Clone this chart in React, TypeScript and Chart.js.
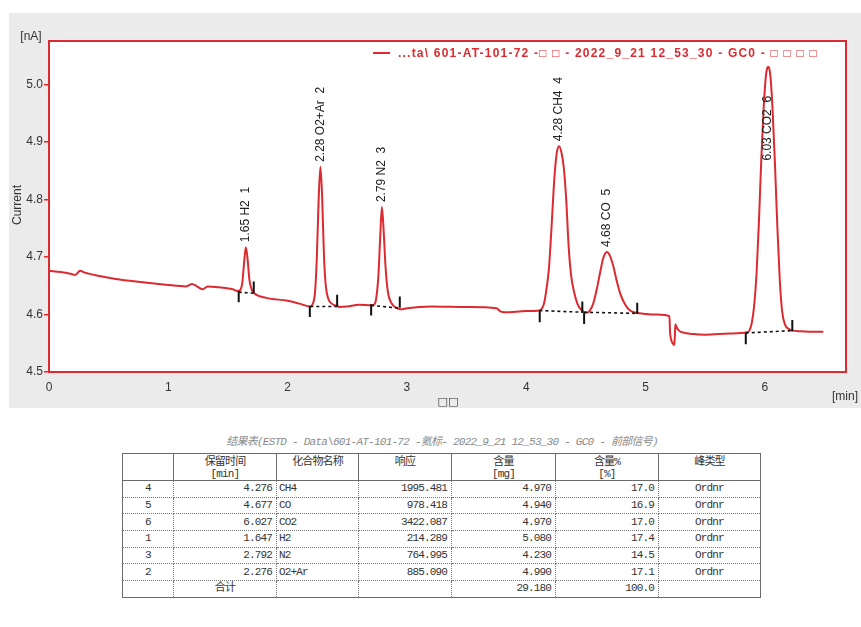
import React, { useEffect, useRef } from "react";
import { Chart, registerables } from "chart.js";

Chart.register(...registerables);

// ---------- chromatogram data ----------
const SIGNAL_T = [
  0.0, 0.1, 0.18, 0.22, 0.26, 0.3, 0.4, 0.56, 0.75, 0.98, 1.15, 1.2, 1.24, 1.29, 1.33, 1.4, 1.54, 1.58,
  1.6, 1.62, 1.635, 1.65, 1.665, 1.68, 1.7, 1.72, 1.82, 2.0, 2.1, 2.19,
  2.21, 2.23, 2.245, 2.26, 2.275, 2.29, 2.305, 2.32, 2.34, 2.37, 2.41, 2.44, 2.5, 2.6, 2.7,
  2.72, 2.74, 2.76, 2.775, 2.79, 2.805, 2.82, 2.84, 2.87, 2.91, 2.95, 3.0, 3.2, 3.5, 3.75, 3.78, 3.82, 4.0, 4.11,
  4.13, 4.15, 4.17, 4.19, 4.21, 4.235, 4.255, 4.275, 4.295, 4.315, 4.335, 4.355, 4.375, 4.4, 4.43, 4.47, 4.505,
  4.53, 4.56, 4.59, 4.62, 4.645, 4.675, 4.7, 4.73, 4.76, 4.79, 4.83, 4.87, 4.92, 5.0, 5.1, 5.2,
  5.205, 5.215, 5.23, 5.24, 5.245, 5.25, 5.26, 5.28, 5.31, 5.4, 5.5, 5.7, 5.85,
  5.87, 5.89, 5.91, 5.93, 5.95, 5.97, 5.99, 6.01, 6.027, 6.045, 6.065, 6.085, 6.105, 6.125, 6.145, 6.17, 6.2, 6.23, 6.3, 6.4, 6.49,
];
const SIGNAL_Y = [
  4.676, 4.674, 4.671, 4.669, 4.676, 4.673, 4.668, 4.662, 4.657, 4.652, 4.649, 4.653, 4.649, 4.644, 4.649, 4.648, 4.644, 4.641,
  4.642, 4.655, 4.69, 4.717, 4.695, 4.66, 4.643, 4.637, 4.629, 4.624, 4.619, 4.614,
  4.618, 4.64, 4.7, 4.8, 4.857, 4.8, 4.7, 4.65, 4.628, 4.619, 4.615, 4.613, 4.614, 4.617, 4.616,
  4.617, 4.625, 4.665, 4.73, 4.787, 4.745, 4.685, 4.64, 4.62, 4.612, 4.609, 4.611, 4.614, 4.613, 4.611, 4.606, 4.604, 4.606, 4.607,
  4.61, 4.62, 4.645, 4.68, 4.745, 4.835, 4.88, 4.893, 4.882, 4.855, 4.8, 4.72, 4.67, 4.64, 4.618, 4.606, 4.603,
  4.606, 4.618, 4.643, 4.674, 4.698, 4.709, 4.703, 4.684, 4.657, 4.635, 4.617, 4.607, 4.603, 4.601, 4.6, 4.597,
  4.57, 4.556, 4.549, 4.547, 4.56, 4.583, 4.578, 4.572, 4.569, 4.566, 4.565, 4.567, 4.569,
  4.572, 4.585, 4.615, 4.67, 4.76, 4.87, 4.96, 5.018, 5.031, 5.018, 4.955, 4.86, 4.75, 4.66, 4.605, 4.582, 4.575, 4.572, 4.571, 4.57, 4.57,
];

// peak apexes and labels
const PEAK_APEX_T = [1.65, 2.275, 2.79, 4.275, 4.675, 6.027];
const PEAK_APEX_Y = [4.717, 4.857, 4.787, 4.893, 4.709, 5.031];
const PEAK_LABELS = ["1.65 H2  1", "2.28 O2+Ar  2", "2.79 N2  3", "4.28 CH4  4", "4.68 CO  5", "6.03 CO2  6"];

// integration baselines (dotted)
const BASE_T0 = [1.59, 2.19, 2.7, 4.11, 4.485, 5.84];
const BASE_Y0 = [4.639, 4.614, 4.616, 4.607, 4.604, 4.568];
const BASE_T1 = [1.715, 2.415, 2.94, 4.475, 4.93, 6.23];
const BASE_Y1 = [4.637, 4.614, 4.611, 4.604, 4.602, 4.572];

// peak start / end marks
const START_T = [1.59, 2.186, 2.7, 4.113, 4.485, 5.84];
const START_Y = [4.641, 4.615, 4.618, 4.606, 4.603, 4.568];
const END_T = [1.716, 2.415, 2.94, 4.47, 4.93, 6.23];
const END_Y = [4.638, 4.615, 4.612, 4.603, 4.601, 4.571];

// axes
const X_TICKS = [0, 1, 2, 3, 4, 5, 6];
const Y_TICKS = [4.5, 4.6, 4.7, 4.8, 4.9, 5.0];
const X_MIN = 0;
const X_MAX = 6.68;
const Y_MIN = 4.5;
const Y_MAX = 5.076;

const LEGEND_TEXT = "...ta\\ 601-AT-101-72 -\u25A1 \u25A1 - 2022_9_21 12_53_30 - GC0 - \u25A1 \u25A1 \u25A1 \u25A1";
const X_TITLE = "\u25A1\u25A1";
const Y_TITLE = "Current";
const Y_UNIT = "[nA]";
const X_UNIT = "[min]";

// ---------- result table data ----------
const TABLE_TITLE = "结果表(ESTD - Data\\601-AT-101-72 -氦标- 2022_9_21 12_53_30 - GC0 - 前部信号)";
const ROW_IDS = ["4", "5", "6", "1", "3", "2"];
const ROW_RT = [4.276, 4.677, 6.027, 1.647, 2.792, 2.276];
const ROW_NAMES = ["CH4", "CO", "CO2", "H2", "N2", "O2+Ar"];
const ROW_RESP = [1995.481, 978.418, 3422.087, 214.289, 764.995, 885.09];
const ROW_AMT = [4.97, 4.94, 4.97, 5.08, 4.23, 4.99];
const ROW_PCT = [17.0, 16.9, 17.0, 17.4, 14.5, 17.1];
const ROW_TYPE = ["Ordnr", "Ordnr", "Ordnr", "Ordnr", "Ordnr", "Ordnr"];
const TOTAL_LABEL = "合计";
const TOTAL_AMT = 29.18;
const TOTAL_PCT = 100.0;
const HEADERS: [string, string][] = [
  ["", ""],
  ["保留时间", "[min]"],
  ["化合物名称", ""],
  ["响应", ""],
  ["含量", "[mg]"],
  ["含量%", "[%]"],
  ["峰类型", ""],
];

const RED = "#dc2a30";
const SANS = "'Liberation Sans', Arial, sans-serif";
const TICK_LEN = 0.0195;

function segs(t0: number[], y0: number[], t1: number[], y1: number[]) {
  const out: { x: number; y: number | null }[] = [];
  t0.forEach((t, i) => {
    out.push({ x: t, y: y0[i] });
    out.push({ x: t1[i], y: y1[i] });
    out.push({ x: t1[i], y: null });
  });
  return out;
}

function marks() {
  const out: { x: number; y: number | null }[] = [];
  START_T.forEach((t, i) => {
    out.push({ x: t, y: START_Y[i] });
    out.push({ x: t, y: START_Y[i] - TICK_LEN });
    out.push({ x: t, y: null });
  });
  END_T.forEach((t, i) => {
    out.push({ x: t, y: END_Y[i] });
    out.push({ x: t, y: END_Y[i] + TICK_LEN });
    out.push({ x: t, y: null });
  });
  return out;
}

const decorPlugin = {
  id: "decor",
  beforeDraw(chart: any) {
    const { ctx, chartArea: a } = chart;
    ctx.save();
    ctx.fillStyle = "#ffffff";
    ctx.fillRect(a.left, a.top, a.right - a.left, a.bottom - a.top);
    ctx.restore();
  },
  afterDatasetsDraw(chart: any) {
    const { ctx, chartArea: a, scales } = chart;
    const xs = scales.x;
    const ys = scales.y;
    ctx.save();
    // peak labels
    ctx.font = `12px ${SANS}`;
    ctx.fillStyle = "#222";
    ctx.textBaseline = "middle";
    ctx.textAlign = "left";
    PEAK_LABELS.forEach((lab, i) => {
      const px = xs.getPixelForValue(PEAK_APEX_T[i]);
      const apex = ys.getPixelForValue(PEAK_APEX_Y[i]);
      let py = apex - 5;
      const w = ctx.measureText(lab).width;
      // label does not fit above the peak: put it inside, below the apex
      if (py - w < a.top + 20) py = apex + 29 + w;
      ctx.save();
      ctx.translate(px, py);
      ctx.rotate(-Math.PI / 2);
      ctx.fillText(lab, 0, 0);
      ctx.restore();
    });
    // frame
    ctx.strokeStyle = RED;
    ctx.lineWidth = 2;
    ctx.strokeRect(a.left, a.top, a.right - a.left, a.bottom - a.top);
    // legend
    ctx.beginPath();
    ctx.moveTo(364, 40);
    ctx.lineTo(381, 40);
    ctx.stroke();
    ctx.font = `bold 12px ${SANS}`;
    ctx.fillStyle = RED;
    const lw = ctx.measureText(LEGEND_TEXT).width;
    const sp = (420 - lw) / LEGEND_TEXT.length;
    (ctx as any).letterSpacing = `${sp}px`;
    ctx.fillText(LEGEND_TEXT, 389, 40.5);
    (ctx as any).letterSpacing = "0px";
    // axis texts
    ctx.fillStyle = "#333";
    ctx.font = `12px ${SANS}`;
    ctx.textAlign = "center";
    ctx.fillText(Y_UNIT, 22, 24);
    ctx.fillText(X_UNIT, 836, 384);
    ctx.font = `11px 'DejaVu Sans', sans-serif`;
    ctx.fillText(X_TITLE, 439, 389);
    ctx.font = `12px ${SANS}`;
    ctx.save();
    ctx.translate(9, 192);
    ctx.rotate(-Math.PI / 2);
    ctx.fillText(Y_TITLE, 0, 0);
    ctx.restore();
    ctx.restore();
  },
};

function ChromChart() {
  const ref = useRef<HTMLCanvasElement>(null);
  useEffect(() => {
    const chart = new Chart(ref.current!, {
      type: "line",
      data: {
        datasets: [
          {
            data: marks(),
            borderColor: "#111",
            borderWidth: 2,
            pointRadius: 0,
            spanGaps: false,
            order: 0,
          } as any,
          {
            data: segs(BASE_T0, BASE_Y0, BASE_T1, BASE_Y1),
            borderColor: "#111",
            borderWidth: 1.6,
            borderDash: [3, 3],
            pointRadius: 0,
            spanGaps: false,
            order: 1,
          } as any,
          {
            data: SIGNAL_T.map((t, i) => ({ x: t, y: SIGNAL_Y[i] })),
            borderColor: RED,
            borderWidth: 2,
            pointRadius: 0,
            cubicInterpolationMode: "monotone",
            order: 2,
          } as any,
        ],
      },
      options: {
        responsive: false,
        animation: false,
        devicePixelRatio: 1,
        events: [],
        layout: { padding: { left: 0, top: 28, right: 15, bottom: 0 } },
        plugins: { legend: { display: false }, tooltip: { enabled: false }, title: { display: false } },
        scales: {
          x: {
            type: "linear",
            min: X_MIN,
            max: X_MAX,
            afterBuildTicks: (s: any) => {
              s.ticks = X_TICKS.map((v) => ({ value: v }));
            },
            afterFit: (s: any) => {
              s.height = 36;
            },
            grid: { display: false, drawTicks: false },
            border: { display: false },
            ticks: {
              padding: 8,
              color: "#333",
              font: { family: SANS, size: 12 },
              maxRotation: 0,
              callback: (v: any) => String(v),
            },
          },
          y: {
            type: "linear",
            min: Y_MIN,
            max: Y_MAX,
            afterBuildTicks: (s: any) => {
              s.ticks = Y_TICKS.map((v) => ({ value: v }));
            },
            afterFit: (s: any) => {
              s.width = 40;
            },
            grid: { drawOnChartArea: false, color: RED, tickLength: 5, lineWidth: 1.5 },
            border: { display: false },
            ticks: {
              padding: 1,
              color: "#333",
              font: { family: SANS, size: 12 },
              callback: (v: any) => Number(v).toFixed(1),
            },
          },
        },
      } as any,
      plugins: [decorPlugin],
    });
    return () => chart.destroy();
  }, []);
  return (
    <div style={{ position: "absolute", left: 9, top: 13, width: 852, height: 395, background: "#ebebeb" }}>
      <canvas ref={ref} width={852} height={395} style={{ display: "block" }} />
    </div>
  );
}

const MONO = "'Liberation Mono', 'Noto Sans CJK SC', monospace";
const COL_W = [51, 103, 82, 93, 104, 103, 102];

function ResultTable() {
  const solid = "1px solid #6a6a6a";
  const dotted = "1px dotted #777";
  const head: React.CSSProperties = {
    border: solid,
    padding: "2px 0 0 0",
    verticalAlign: "top",
    textAlign: "center",
    fontWeight: "normal",
    lineHeight: "12px",
    height: 24,
  };
  const cell = (align: "left" | "right" | "center"): React.CSSProperties => ({
    borderLeft: dotted,
    borderRight: dotted,
    borderBottom: dotted,
    padding: align === "right" ? "0 4px 0 0" : align === "left" ? "0 0 0 2px" : 0,
    textAlign: align,
    height: 15.7,
    lineHeight: "15px",
    whiteSpace: "nowrap",
    overflow: "hidden",
  });
  return (
    <>
      <div
        style={{
          position: "absolute",
          left: 142,
          top: 435,
          width: 600,
          textAlign: "center",
          font: `italic 11px ${MONO}`,
          letterSpacing: "-0.75px",
          color: "#8a8a8a",
          whiteSpace: "nowrap",
          lineHeight: "14px",
        }}
      >
        {TABLE_TITLE}
      </div>
      <table
        style={{
          position: "absolute",
          left: 122,
          top: 453,
          width: 638,
          borderCollapse: "collapse",
          tableLayout: "fixed",
          border: solid,
          font: `11px ${MONO}`,
          letterSpacing: "-0.85px",
          color: "#333",
        }}
      >
        <colgroup>
          {COL_W.map((w, i) => (
            <col key={i} style={{ width: w }} />
          ))}
        </colgroup>
        <thead>
          <tr>
            {HEADERS.map((h, i) => (
              <th key={i} style={head}>
                {h[0]}
                {h[1] ? <br /> : null}
                {h[1]}
              </th>
            ))}
          </tr>
        </thead>
        <tbody>
          {ROW_IDS.map((id, i) => (
            <tr key={i}>
              <td style={cell("center")}>{id}</td>
              <td style={cell("right")}>{ROW_RT[i].toFixed(3)}</td>
              <td style={cell("left")}>{ROW_NAMES[i]}</td>
              <td style={cell("right")}>{ROW_RESP[i].toFixed(3)}</td>
              <td style={cell("right")}>{ROW_AMT[i].toFixed(3)}</td>
              <td style={cell("right")}>{ROW_PCT[i].toFixed(1)}</td>
              <td style={cell("center")}>{ROW_TYPE[i]}</td>
            </tr>
          ))}
          <tr>
            <td style={cell("center")}></td>
            <td style={cell("center")}>{TOTAL_LABEL}</td>
            <td style={cell("left")}></td>
            <td style={cell("right")}></td>
            <td style={cell("right")}>{TOTAL_AMT.toFixed(3)}</td>
            <td style={cell("right")}>{TOTAL_PCT.toFixed(1)}</td>
            <td style={cell("center")}></td>
          </tr>
        </tbody>
      </table>
    </>
  );
}

export default function App() {
  return (
    <div>
      <ChromChart />
      <ResultTable />
    </div>
  );
}
